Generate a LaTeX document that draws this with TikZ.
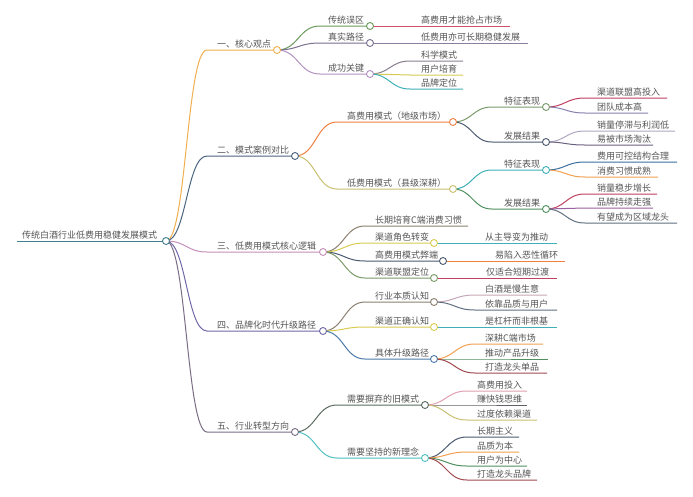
\documentclass[tikz,border=0pt]{standalone}
\usepackage{fontspec}
\newfontfamily\cjk{Noto Sans CJK SC}
\usetikzlibrary{calc}
\definecolor{txt}{HTML}{555555}
\definecolor{cR}{HTML}{3F7F8F}
\definecolor{cA}{HTML}{F0B050}
\definecolor{cB}{HTML}{4A6580}
\definecolor{cC}{HTML}{C58FB8}
\definecolor{cD}{HTML}{7068A8}
\definecolor{cE}{HTML}{7A6E86}
\definecolor{green1}{HTML}{6A9A5A}
\definecolor{red1}{HTML}{D0506A}
\definecolor{gp}{HTML}{7A7090}
\definecolor{gp2}{HTML}{8A7FA0}
\definecolor{lp}{HTML}{B090C0}
\definecolor{gray1}{HTML}{8A8090}
\definecolor{yel}{HTML}{D8CC50}
\definecolor{teal1}{HTML}{40B0B8}
\definecolor{ora}{HTML}{F08040}
\definecolor{gg}{HTML}{7A9A6A}
\definecolor{crim}{HTML}{C04060}
\definecolor{pb}{HTML}{8A80B0}
\definecolor{slate}{HTML}{4A5A70}
\definecolor{lgp}{HTML}{B0A8C0}
\definecolor{dpg}{HTML}{6A6080}
\definecolor{olive}{HTML}{C8C070}
\definecolor{blue1}{HTML}{3A70A0}
\definecolor{ora2}{HTML}{F0A050}
\definecolor{green2}{HTML}{509060}
\definecolor{purp}{HTML}{9A60A0}
\definecolor{slate2}{HTML}{607080}
\definecolor{brg}{HTML}{8A8070}
\definecolor{pinkg}{HTML}{C8A8B8}
\definecolor{blue2}{HTML}{4A78A8}
\definecolor{brown1}{HTML}{A04A50}
\definecolor{dg}{HTML}{5A6A60}
\definecolor{pink1}{HTML}{E0A0B0}
\definecolor{dgray}{HTML}{606068}
\definecolor{teal2}{HTML}{50C0C0}
\tikzset{
  lbl/.style={anchor=base west, yshift=3pt, inner sep=0pt, text=txt,
    font={\cjk\fontsize{9}{10}\selectfont}},
  dot/.style={circle, fill=white, line width=0.9pt, inner sep=0pt, minimum size=7pt},
  br/.style={line width=1pt}
}
\newcommand\mn[6]{\coordinate (#1s) at (#2,#4);\coordinate (#1e) at (#3,#4);\node[lbl] (#1) at (#5,#4) {#6};}
\newcommand\cn[3]{\draw[br,#1] let \p1=(#2e),\p2=(#3s) in (\p1) .. controls (\x1/2+\x2/2,\y1) and (\x1/2+\x2/2,\y2) .. (\p2) -- (#3e);}
\newcommand\dt[2]{\node[dot,draw=#1] at (#2e) {};}
\begin{document}
\begin{tikzpicture}[x=1pt,y=-1pt]
\useasboundingbox[fill=white] (0,0) rectangle (693,496);
% nodes
\mn{r}{17}{166}{241}{22}{传统白酒行业低费用稳健发展模式}
\mn{a}{207}{277}{50}{217}{一、核心观点}
\mn{aa}{320}{370}{26}{328}{传统误区}
\mn{aaa}{370}{510}{26}{421}{高费用才能抢占市场}
\mn{ab}{320}{370}{43}{328}{真实路径}
\mn{aba}{370}{528}{43}{421}{低费用亦可长期稳健发展}
\mn{ac}{320}{370}{74}{328}{成功关键}
\mn{aca}{410}{463}{61}{421}{科学模式}
\mn{acb}{410}{463}{75}{421}{用户培育}
\mn{acc}{410}{463}{89}{421}{品牌定位}
\mn{b}{207}{295}{156}{217}{二、模式案例对比}
\mn{ba}{337}{453}{122}{347}{高费用模式（地级市场）}
\mn{baa}{492}{546}{107}{504}{特征表现}
\mn{baaa}{585}{667}{98}{597}{渠道联盟高投入}
\mn{baab}{585}{648}{113}{597}{团队成本高}
\mn{bab}{492}{546}{142}{504}{发展结果}
\mn{baba}{585}{675}{131}{597}{销量停滞与利润低}
\mn{babb}{585}{653}{145}{597}{易被市场淘汰}
\mn{bb}{337}{453}{189}{347}{低费用模式（县级深耕）}
\mn{bba}{492}{546}{170}{504}{特征表现}
\mn{bbaa}{585}{677}{162}{597}{费用可控结构合理}
\mn{bbab}{585}{658}{177}{597}{消费习惯成熟}
\mn{bbb}{492}{546}{209}{504}{发展结果}
\mn{bbba}{585}{657}{194}{597}{销量稳步增长}
\mn{bbbb}{585}{653}{208}{597}{品牌持续走强}
\mn{bbbc}{585}{677}{223}{597}{有望成为区域龙头}
\mn{c}{207}{323}{252}{217}{三、低费用模式核心逻辑}
\mn{ca}{365}{468}{226}{375}{长期培育C端消费习惯}
\mn{cb}{365}{434}{243}{375}{渠道角色转变}
\mn{cba}{434}{557}{243}{485}{从主导变为推动}
\mn{cc}{365}{443}{261}{375}{高费用模式弊端}
\mn{cca}{443}{565}{261}{495}{易陷入恶性循环}
\mn{cd}{365}{434}{278}{375}{渠道联盟定位}
\mn{cda}{434}{557}{278}{486}{仅适合短期过渡}
\mn{d}{207}{323}{331}{217}{四、品牌化时代升级路径}
\mn{da}{365}{434}{302}{375}{行业本质认知}
\mn{daa}{475}{547}{295}{485}{白酒是慢生意}
\mn{dab}{475}{557}{310}{485}{依靠品质与用户}
\mn{db}{365}{434}{327}{375}{渠道正确认知}
\mn{dba}{434}{557}{327}{485}{是杠杆而非根基}
\mn{dc}{365}{434}{359}{375}{具体升级路径}
\mn{dca}{475}{543}{344}{485}{深耕C端市场}
\mn{dcb}{475}{548}{359}{485}{推动产品升级}
\mn{dcc}{475}{547}{373}{485}{打造龙头单品}
\mn{e}{207}{295}{432}{217}{五、行业转型方向}
\mn{ea}{337}{425}{405}{347}{需要摒弃的旧模式}
\mn{eaa}{467}{527}{391}{477}{高费用投入}
\mn{eab}{467}{527}{405}{477}{赚快钱思维}
\mn{eac}{467}{537}{420}{477}{过度依赖渠道}
\mn{eb}{337}{425}{458}{347}{需要坚持的新理念}
\mn{eba}{467}{519}{437}{477}{长期主义}
\mn{ebb}{467}{519}{452}{477}{品质为本}
\mn{ebc}{467}{527}{466}{477}{用户为中心}
\mn{ebd}{467}{537}{480}{477}{打造龙头品牌}
% connectors
\draw[br,cR] (rs) -- (re);
\cn{cA}{r}{a}\cn{cB}{r}{b}\cn{cC}{r}{c}\cn{cD}{r}{d}\cn{cE}{r}{e}
\cn{green1}{a}{aa}\cn{gp}{a}{ab}\cn{lp}{a}{ac}
\cn{red1}{aa}{aaa}\cn{gp2}{ab}{aba}
\cn{gray1}{ac}{aca}\cn{yel}{ac}{acb}\cn{teal1}{ac}{acc}
\cn{ora}{b}{ba}\cn{olive}{b}{bb}
\cn{gg}{ba}{baa}\cn{slate}{ba}{bab}
\cn{crim}{baa}{baaa}\cn{pb}{baa}{baab}
\cn{lgp}{bab}{baba}\cn{dpg}{bab}{babb}
\cn{teal1}{bb}{bba}\cn{green2}{bb}{bbb}
\cn{blue1}{bba}{bbaa}\cn{ora2}{bba}{bbab}
\cn{crim}{bbb}{bbba}\cn{purp}{bbb}{bbbb}\cn{slate2}{bbb}{bbbc}
\cn{brg}{c}{ca}\cn{yel}{c}{cb}\cn{slate}{c}{cc}\cn{gg}{c}{cd}
\cn{teal1}{cb}{cba}\cn{ora}{cc}{cca}\cn{crim}{cd}{cda}
\cn{brg}{d}{da}\cn{yel}{d}{db}\cn{blue2}{d}{dc}
\cn{pinkg}{da}{daa}\cn{slate2}{da}{dab}
\cn{teal1}{db}{dba}
\cn{ora2}{dc}{dca}\cn{green2}{dc}{dcb}\cn{brown1}{dc}{dcc}
\cn{dg}{e}{ea}\cn{teal2}{e}{eb}
\cn{pink1}{ea}{eaa}\cn{dgray}{ea}{eab}\cn{olive}{ea}{eac}
\cn{slate}{eb}{eba}\cn{ora2}{eb}{ebb}\cn{green2}{eb}{ebc}\cn{brown1}{eb}{ebd}
% dots
\dt{cR}{r}\dt{cA}{a}\dt{cB}{b}\dt{cC}{c}\dt{cD}{d}\dt{cE}{e}
\dt{green1}{aa}\dt{gp}{ab}\dt{lp}{ac}
\dt{ora}{ba}\dt{olive}{bb}\dt{gg}{baa}\dt{slate}{bab}\dt{teal1}{bba}\dt{green2}{bbb}
\dt{yel}{cb}\dt{slate}{cc}\dt{gg}{cd}
\dt{brg}{da}\dt{yel}{db}\dt{blue2}{dc}
\dt{dg}{ea}\dt{teal2}{eb}
\end{tikzpicture}
\end{document}
